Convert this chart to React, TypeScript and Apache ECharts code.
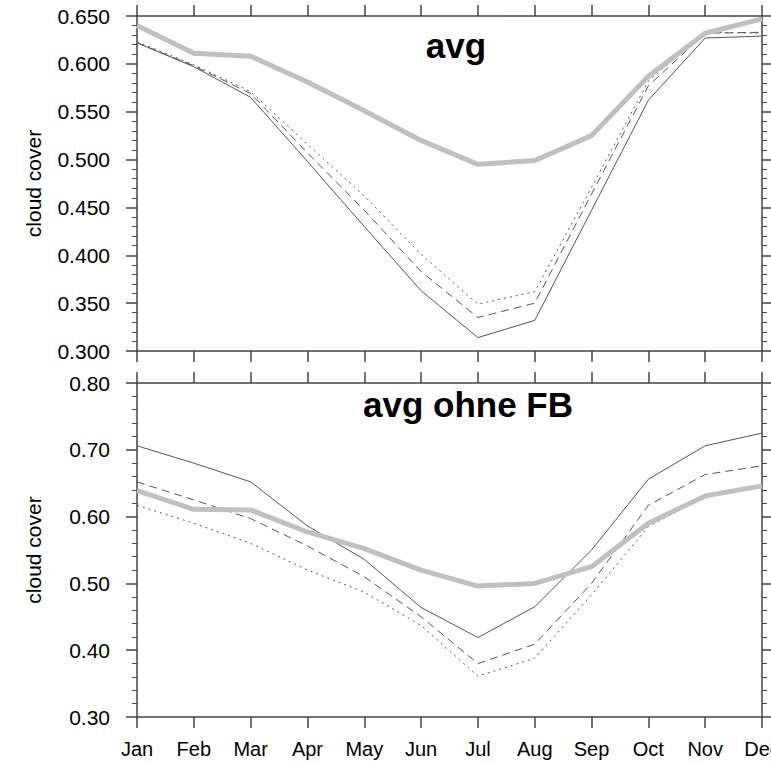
import React, { useEffect, useRef } from "react";
import * as echarts from "echarts";

const months = ["Jan", "Feb", "Mar", "Apr", "May", "Jun", "Jul", "Aug", "Sep", "Oct", "Nov", "Dec"];

// top panel "avg"
const avgTop = [0.640, 0.611, 0.608, 0.581, 0.551, 0.520, 0.495, 0.499, 0.525, 0.587, 0.632, 0.647];
const solidTop = [0.622, 0.597, 0.565, 0.498, 0.430, 0.363, 0.314, 0.332, 0.447, 0.562, 0.627, 0.629];
const dashedTop = [0.622, 0.598, 0.569, 0.507, 0.447, 0.383, 0.335, 0.350, 0.464, 0.577, 0.632, 0.633];
const dottedTop = [0.623, 0.599, 0.571, 0.516, 0.462, 0.401, 0.349, 0.362, 0.471, 0.582, 0.633, 0.632];

// bottom panel "avg ohne FB"
const avgBot = [0.639, 0.611, 0.610, 0.577, 0.552, 0.520, 0.496, 0.500, 0.525, 0.590, 0.631, 0.646];
const solidBot = [0.706, 0.680, 0.652, 0.586, 0.536, 0.464, 0.419, 0.465, 0.550, 0.656, 0.706, 0.725];
const dashedBot = [0.652, 0.625, 0.597, 0.556, 0.510, 0.450, 0.380, 0.409, 0.500, 0.617, 0.663, 0.676];
const dottedBot = [0.617, 0.590, 0.560, 0.520, 0.487, 0.437, 0.361, 0.388, 0.483, 0.585, 0.630, 0.645];

const FONT = "Liberation Sans";
const AX = "#444";

export default function App() {
  const ref = useRef<HTMLDivElement>(null);
  useEffect(() => {
    const chart = echarts.init(ref.current!, null, { renderer: "svg" });
    const axisLine = { show: true, lineStyle: { color: AX, width: 1.5 } };
    const axisTick = { show: true, inside: false, length: 11, lineStyle: { color: AX, width: 1.5 } };
    const xBase = (grid: number, pos: string, labels: boolean) => ({
      type: "category",
      gridIndex: grid,
      position: pos,
      data: months,
      boundaryGap: false,
      axisLine,
      axisTick,
      axisLabel: labels
        ? { show: true, fontFamily: FONT, fontSize: 20, color: "#000", margin: 22, interval: 0, hideOverlap: false }
        : { show: false },
      splitLine: { show: false },
    });
    const yBase = (grid: number, pos: string, min: number, max: number, interval: number, dec: number, labels: boolean) => ({
      type: "value",
      gridIndex: grid,
      position: pos,
      min,
      max,
      interval,
      axisLine,
      axisTick,
      minorTick: { show: true, splitNumber: 5, length: 5, lineStyle: { color: AX, width: 1 } },
      splitLine: { show: false },
      minorSplitLine: { show: false },
      axisLabel: labels
        ? { show: true, fontFamily: FONT, fontSize: 21, color: "#000", margin: 27, formatter: (v: number) => v.toFixed(dec) }
        : { show: false },
      name: labels ? "cloud cover" : "",
      nameLocation: "middle",
      nameGap: 93,
      nameTextStyle: { fontFamily: FONT, fontSize: 21, color: "#000" },
    });
    const thin = (data: number[], x: number, y: number, type: any, color: string, width = 1) => ({
      type: "line",
      xAxisIndex: x,
      yAxisIndex: y,
      data,
      symbol: "none",
      lineStyle: { color, width, type },
      z: 2,
    });
    chart.setOption({
      animation: false,
      grid: [
        { left: 137, top: 16, width: 625, height: 335, outerBoundsMode: "none", containLabel: false },
        { left: 137, top: 383, width: 625, height: 334, outerBoundsMode: "none", containLabel: false },
      ],
      xAxis: [
        xBase(0, "bottom", false),
        xBase(0, "top", false),
        xBase(1, "bottom", true),
        xBase(1, "top", false),
      ],
      yAxis: [
        yBase(0, "left", 0.3, 0.65, 0.05, 3, true),
        yBase(0, "right", 0.3, 0.65, 0.05, 3, false),
        yBase(1, "left", 0.3, 0.8, 0.1, 2, true),
        yBase(1, "right", 0.3, 0.8, 0.1, 2, false),
      ],
      series: [
        thin(solidTop, 0, 0, "solid", "#555"),
        thin(dashedTop, 0, 0, [8, 5], "#555"),
        thin(dottedTop, 0, 0, [2, 4], "#555"),
        { ...thin(avgTop, 0, 0, "solid", "#c0c0c0", 5), z: 3 },
        thin(solidBot, 2, 2, "solid", "#555"),
        thin(dashedBot, 2, 2, [8, 5], "#555"),
        thin(dottedBot, 2, 2, [2, 4], "#555"),
        { ...thin(avgBot, 2, 2, "solid", "#c0c0c0", 5), z: 3 },
      ],
      graphic: [
        {
          type: "text",
          x: 456,
          y: 45,
          style: { text: "avg", fontFamily: FONT, fontSize: 35, fontWeight: "bold", fill: "#000", textAlign: "center", textVerticalAlign: "middle" },
        },
        {
          type: "text",
          x: 468,
          y: 404,
          style: { text: "avg ohne FB", fontFamily: FONT, fontSize: 35, fontWeight: "bold", fill: "#000", textAlign: "center", textVerticalAlign: "middle" },
        },
      ],
    });
    return () => chart.dispose();
  }, []);
  return <div ref={ref} style={{ position: "fixed", left: 0, top: 0, width: 771, height: 763, background: "#fff" }} />;
}
